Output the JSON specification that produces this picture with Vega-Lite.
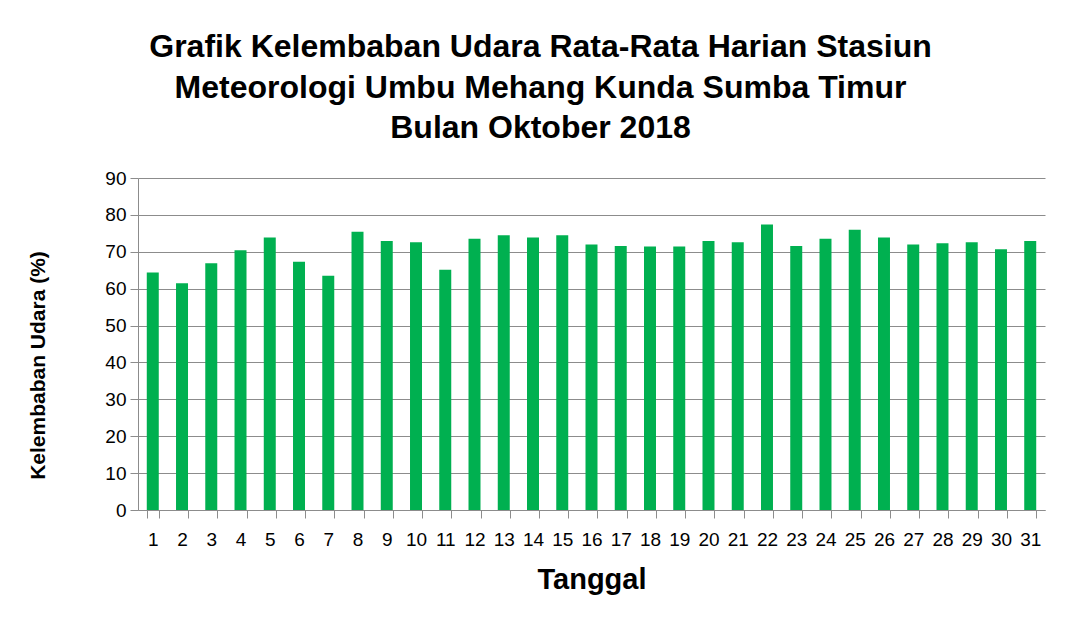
{
  "$schema": "https://vega.github.io/schema/vega-lite/v6.json",
  "width": 907,
  "height": 332,
  "autosize": {"type": "none"},
  "padding": {"left": 138, "top": 178, "right": 29, "bottom": 121},
  "background": "white",
  "title": {
    "text": ["Grafik Kelembaban Udara Rata-Rata Harian Stasiun", "Meteorologi Umbu Mehang Kunda Sumba Timur", "Bulan Oktober 2018"],
    "font": "Liberation Sans",
    "fontSize": 32,
    "fontWeight": "bold",
    "color": "#000000",
    "lineHeight": 40.5,
    "anchor": "middle",
    "dx": -51,
    "offset": 24
  },
  "data": {
    "values": [
      {"Tanggal": 1, "Kelembaban": 64.4},
      {"Tanggal": 2, "Kelembaban": 61.5},
      {"Tanggal": 3, "Kelembaban": 66.9},
      {"Tanggal": 4, "Kelembaban": 70.4},
      {"Tanggal": 5, "Kelembaban": 73.9},
      {"Tanggal": 6, "Kelembaban": 67.3},
      {"Tanggal": 7, "Kelembaban": 63.5},
      {"Tanggal": 8, "Kelembaban": 75.4},
      {"Tanggal": 9, "Kelembaban": 72.9},
      {"Tanggal": 10, "Kelembaban": 72.6},
      {"Tanggal": 11, "Kelembaban": 65.1},
      {"Tanggal": 12, "Kelembaban": 73.5},
      {"Tanggal": 13, "Kelembaban": 74.5},
      {"Tanggal": 14, "Kelembaban": 73.9},
      {"Tanggal": 15, "Kelembaban": 74.5},
      {"Tanggal": 16, "Kelembaban": 72.0},
      {"Tanggal": 17, "Kelembaban": 71.6},
      {"Tanggal": 18, "Kelembaban": 71.4},
      {"Tanggal": 19, "Kelembaban": 71.4},
      {"Tanggal": 20, "Kelembaban": 72.9},
      {"Tanggal": 21, "Kelembaban": 72.6},
      {"Tanggal": 22, "Kelembaban": 77.4},
      {"Tanggal": 23, "Kelembaban": 71.6},
      {"Tanggal": 24, "Kelembaban": 73.5},
      {"Tanggal": 25, "Kelembaban": 76.0},
      {"Tanggal": 26, "Kelembaban": 73.9},
      {"Tanggal": 27, "Kelembaban": 72.0},
      {"Tanggal": 28, "Kelembaban": 72.3},
      {"Tanggal": 29, "Kelembaban": 72.6},
      {"Tanggal": 30, "Kelembaban": 70.7},
      {"Tanggal": 31, "Kelembaban": 72.9}
    ]
  },
  "mark": {"type": "bar", "color": "#00b050"},
  "encoding": {
    "x": {
      "field": "Tanggal",
      "type": "ordinal",
      "scale": {"paddingInner": 0.59, "paddingOuter": 0.3},
      "axis": {
        "title": "Tanggal",
        "titleFont": "Liberation Sans",
        "titleFontSize": 29,
        "titleFontWeight": "bold",
        "titleColor": "#000000",
        "titlePadding": 16,
        "labelAngle": 0,
        "labelFont": "Liberation Sans",
        "labelFontSize": 19,
        "labelColor": "#000000",
        "labelPadding": 12,
        "labelOverlap": false,
        "tickBand": "extent",
        "tickSize": 8,
        "tickColor": "#8c8c8c",
        "domainColor": "#8c8c8c",
        "grid": false
      }
    },
    "y": {
      "field": "Kelembaban",
      "type": "quantitative",
      "scale": {"domain": [0, 90], "nice": false},
      "axis": {
        "title": "Kelembaban Udara (%)",
        "titleFont": "Liberation Sans",
        "titleFontSize": 21,
        "titleFontWeight": "bold",
        "titleColor": "#000000",
        "titleX": -90,
        "titleY": 187,
        "values": [0, 10, 20, 30, 40, 50, 60, 70, 80, 90],
        "labelFont": "Liberation Sans",
        "labelFontSize": 19,
        "labelColor": "#000000",
        "labelPadding": 4,
        "tickSize": 8,
        "tickColor": "#8c8c8c",
        "domainColor": "#8c8c8c",
        "grid": true,
        "gridColor": "#8c8c8c",
        "gridWidth": 1
      }
    }
  },
  "config": {"view": {"stroke": null}}
}
